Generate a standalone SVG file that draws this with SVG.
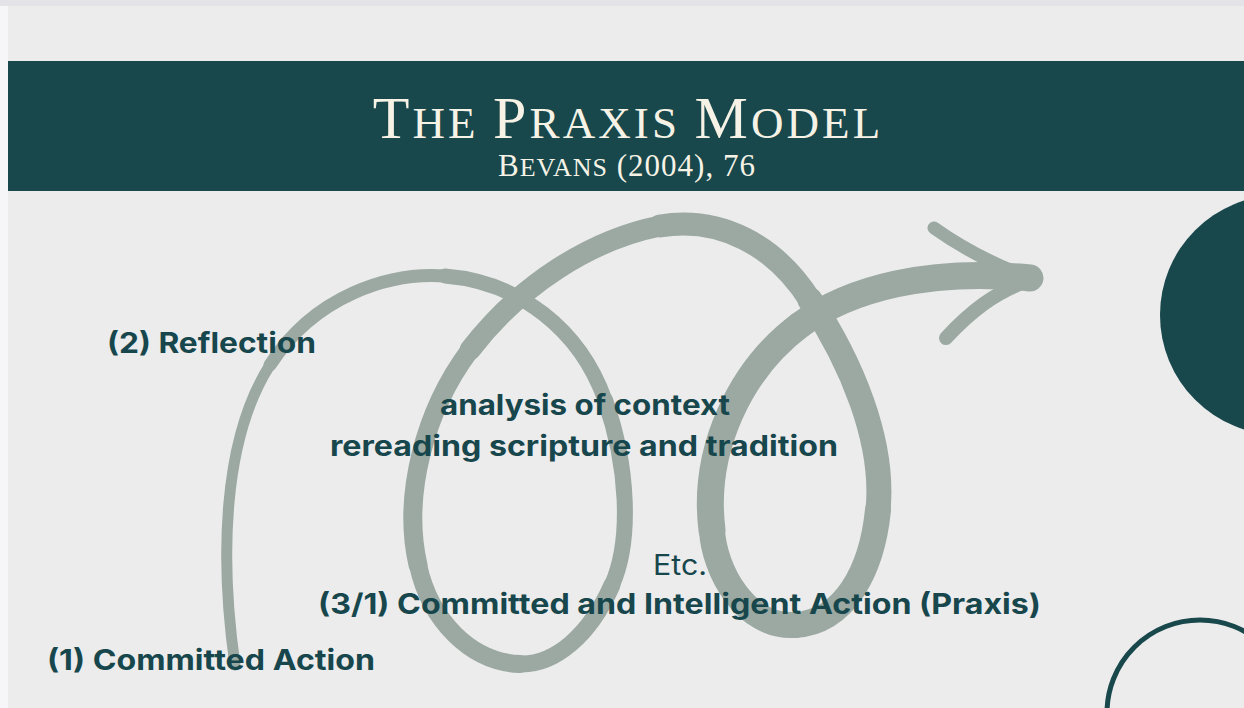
<svg xmlns="http://www.w3.org/2000/svg" width="1244" height="708" viewBox="0 0 1244 708">
  <style>
    .lbl { font-family: Inter, "Open Sans", "Liberation Sans", sans-serif; font-weight: 700; font-size: 28px; fill: #17474c; }
    .reg { font-family: Inter, "Open Sans", "Liberation Sans", sans-serif; font-weight: 400; font-size: 28px; fill: #17474c; }
    .ttl { font-family: "Liberation Serif", "DejaVu Serif", serif; fill: #f6f3e6; }
    .sp { fill: none; stroke: #9ba9a2; stroke-linecap: round; stroke-linejoin: round; }
    .deco { fill: #18474c; }
  </style>
  <rect x="0" y="0" width="1244" height="708" fill="#f6f6f8"/>
  <rect x="0" y="0" width="1244" height="6" fill="#e4e4e8"/>
  <rect id="slide" x="8" y="6" width="1236" height="702" fill="#ececec"/>

  <g id="banner">
    <rect x="8" y="61" width="1236" height="130" fill="#18474c"/>
    <text class="ttl" x="628" y="138" text-anchor="middle" letter-spacing="3.1"><tspan font-size="60">T</tspan><tspan font-size="45">HE </tspan><tspan font-size="60">P</tspan><tspan font-size="45">RAXIS </tspan><tspan font-size="60">M</tspan><tspan font-size="45">ODEL</tspan></text>
    <text class="ttl" x="627" y="176" text-anchor="middle" letter-spacing="1"><tspan font-size="31">B</tspan><tspan font-size="26">EVANS</tspan><tspan font-size="31"> (2004), 76</tspan></text>
  </g>

  <g id="decor">
    <circle class="deco" cx="1280" cy="315" r="120"/>
    <circle cx="1200" cy="713" r="93" fill="none" stroke="#18474c" stroke-width="5"/>
  </g>

  <g id="connectors">
    <path class="sp" stroke-width="11" d="M235,665 C220,560 222,440 270,365"/>
    <path class="sp" stroke-width="13" d="M270,365 C315,295 390,272 445,276"/>
    <path class="sp" stroke-width="15" d="M445,276 C520,282 580,330 605,400"/>
    <path class="sp" stroke-width="16" d="M605,400 C628,465 632,540 612,585"/>
    <path class="sp" stroke-width="17" d="M612,585 C590,635 555,665 520,664"/>
    <path class="sp" stroke-width="18" d="M520,664 C470,662 430,620 418,565"/>
    <path class="sp" stroke-width="19" d="M418,565 C402,495 425,410 470,350"/>
    <path class="sp" stroke-width="21" d="M470,350 C520,285 590,240 660,226"/>
    <path class="sp" stroke-width="23" d="M660,226 C720,216 775,245 810,300"/>
    <path class="sp" stroke-width="25" d="M810,300 C850,360 885,440 878,510"/>
    <path class="sp" stroke-width="26" d="M878,510 C872,570 845,622 795,625"/>
    <path class="sp" stroke-width="26" d="M795,625 C745,628 714,570 712,530"/>
    <path class="sp" stroke-width="27" d="M712,530 C702,450 740,370 800,325"/>
    <path class="sp" stroke-width="27" d="M800,325 C850,288 930,268 1030,278"/>
    <path class="sp" stroke-width="13" d="M934,228 C965,250 995,265 1030,278"/>
    <path class="sp" stroke-width="14" d="M946,338 C970,312 995,292 1030,280"/>
  </g>

  <g id="node-analysis">
    <text class="lbl" x="440" y="415" textLength="290" lengthAdjust="spacingAndGlyphs">analysis of context</text>
    <text class="lbl" x="330" y="456" textLength="508" lengthAdjust="spacingAndGlyphs">rereading scripture and tradition</text>
  </g>
  <g id="node-etc">
    <text class="reg" x="653" y="575" textLength="54" lengthAdjust="spacingAndGlyphs">Etc.</text>
  </g>
  <g id="node-praxis">
    <text class="lbl" x="318" y="614" textLength="723" lengthAdjust="spacingAndGlyphs">(3/1) Committed and Intelligent Action (Praxis)</text>
  </g>
  <g id="node-reflection">
    <text class="lbl" x="107" y="353" textLength="209" lengthAdjust="spacingAndGlyphs">(2) Reflection</text>
  </g>
  <g id="node-committed">
    <text class="lbl" x="47" y="670" textLength="328" lengthAdjust="spacingAndGlyphs">(1) Committed Action</text>
  </g>
</svg>
